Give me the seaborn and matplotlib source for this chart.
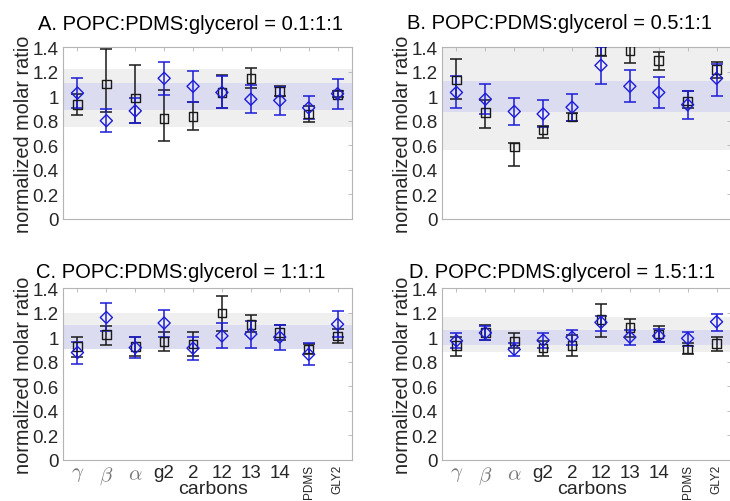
import numpy as np
import pandas as pd
import matplotlib
matplotlib.use('Agg')
import matplotlib.pyplot as plt
import seaborn as sns

sns.set_theme(style='white')
plt.rcParams['font.family'] = ['Liberation Sans', 'DejaVu Sans']
plt.rcParams['mathtext.fontset'] = 'cm'

# carbon labels on the x axis
carbons = ['$\\gamma$', '$\\beta$', '$\\alpha$', 'g2', '2', '12', '13', '14', 'PDMS', 'GLY2']
titles = ['A. POPC:PDMS:glycerol = 0.1:1:1', 'B. POPC:PDMS:glycerol = 0.5:1:1',
          'C. POPC:PDMS:glycerol = 1:1:1', 'D. POPC:PDMS:glycerol = 1.5:1:1']

# black squares: mean, lower end, upper end of the error bar
black_A = [0.93, 1.10, 0.985, 0.82, 0.835, 1.03, 1.145, 1.04, 0.855, 1.015]
black_A_lo = [0.845, 0.87, 0.78, 0.635, 0.725, 0.90, 1.065, 1.00, 0.79, 0.99]
black_A_hi = [1.015, 1.385, 1.25, 1.05, 0.95, 1.17, 1.23, 1.08, 0.92, 1.04]
blue_A = [1.025, 0.80, 0.88, 1.145, 1.08, 1.03, 0.975, 0.965, 0.905, 1.02]
blue_A_lo = [0.90, 0.705, 0.78, 1.01, 0.95, 0.90, 0.86, 0.85, 0.815, 0.895]
blue_A_hi = [1.15, 0.895, 0.985, 1.28, 1.205, 1.16, 1.09, 1.075, 1.005, 1.14]

black_B = [1.13, 0.865, 0.585, 0.725, 0.83, 1.37, 1.37, 1.29, 0.96, 1.215]
black_B_lo = [0.98, 0.74, 0.43, 0.66, 0.80, 1.33, 1.27, 1.215, 0.90, 1.15]
black_B_hi = [1.30, 0.97, 0.62, 0.76, 0.86, 1.41, 1.45, 1.36, 1.04, 1.28]
blue_B = [1.03, 0.975, 0.875, 0.855, 0.91, 1.25, 1.08, 1.03, 0.93, 1.145]
blue_B_lo = [0.905, 0.855, 0.765, 0.75, 0.80, 1.095, 0.95, 0.90, 0.815, 1.005]
blue_B_hi = [1.16, 1.095, 0.985, 0.965, 1.02, 1.40, 1.215, 1.155, 1.04, 1.265]

black_C = [0.925, 1.02, 0.925, 0.965, 0.945, 1.195, 1.105, 1.04, 0.905, 1.01]
black_C_lo = [0.84, 0.94, 0.85, 0.885, 0.85, 1.05, 1.04, 0.98, 0.86, 0.955]
black_C_hi = [1.005, 1.09, 1.00, 1.045, 1.04, 1.335, 1.18, 1.10, 0.945, 1.065]
blue_C = [0.875, 1.16, 0.915, 1.115, 0.91, 1.01, 1.025, 1.0, 0.86, 1.105]
blue_C_lo = [0.785, 1.05, 0.83, 1.0, 0.815, 0.91, 0.915, 0.895, 0.775, 1.0]
blue_C_hi = [0.96, 1.275, 1.0, 1.225, 1.0, 1.115, 1.13, 1.10, 0.95, 1.215]

black_D = [0.93, 1.04, 0.97, 0.91, 0.93, 1.145, 1.08, 1.025, 0.905, 0.95]
black_D_lo = [0.85, 0.98, 0.91, 0.85, 0.85, 1.005, 1.0, 0.96, 0.865, 0.89]
black_D_hi = [1.0, 1.10, 1.03, 0.97, 1.02, 1.27, 1.15, 1.09, 0.95, 1.0]
blue_D = [0.97, 1.035, 0.90, 0.975, 1.0, 1.12, 1.0, 1.01, 0.99, 1.125]
blue_D_lo = [0.91, 0.98, 0.85, 0.91, 0.94, 1.05, 0.94, 0.96, 0.93, 1.05]
blue_D_hi = [1.03, 1.09, 0.95, 1.035, 1.06, 1.17, 1.06, 1.065, 1.04, 1.19]

# shaded bands (gray outer, blue inner)
gray_band = [(0.75, 1.22), (0.56, 1.42), (0.90, 1.20), (0.88, 1.16)]
blue_band = [(0.89, 1.11), (0.875, 1.125), (0.90, 1.10), (0.94, 1.06)]

panels = [
    (black_A, black_A_lo, black_A_hi, blue_A, blue_A_lo, blue_A_hi),
    (black_B, black_B_lo, black_B_hi, blue_B, blue_B_lo, blue_B_hi),
    (black_C, black_C_lo, black_C_hi, blue_C, blue_C_lo, blue_C_hi),
    (black_D, black_D_lo, black_D_hi, blue_D, blue_D_lo, blue_D_hi),
]

W, H = 730, 502
# axes boxes in pixels: left, top, width, height
boxes = [(63, 48, 289, 172), (442, 48, 289, 172), (63, 289, 289, 172), (442, 289, 289, 172)]
title_x = [0.44, 0.408, 0.408, 0.415]
title_dy = [24, 25, 17, 17]

BLACK = '#1a1a1a'
BLUE = '#1c1cd8'
TICK = '#262626'
SPINE = '#b4b4b4'


def draw_series(ax, x, y, lo, hi, color, marker):
    y = np.array(y)
    err = [y - np.array(lo), np.array(hi) - y]
    ax.errorbar(x, y, yerr=err, fmt='none', ecolor=color, elinewidth=1.1,
                capsize=4.5, capthick=1.1, zorder=3)
    df = pd.DataFrame({'x': x, 'y': y})
    sns.scatterplot(data=df, x='x', y='y', ax=ax, marker=marker, s=38,
                    facecolor='none', edgecolor=color, linewidth=1.0, zorder=4)


fig = plt.figure(figsize=(W / 100, H / 100), dpi=100)
x = np.arange(1, len(carbons) + 1)

for i, (bk, bk_lo, bk_hi, bl, bl_lo, bl_hi) in enumerate(panels):
    l, t, w, h = boxes[i]
    ax = fig.add_axes([l / W, (H - t - h) / H, w / W, h / H])
    ax.axhspan(*gray_band[i], color='#efefef', lw=0, zorder=0)
    ax.axhspan(*blue_band[i], color='#dcdcf0', lw=0, zorder=1)

    draw_series(ax, x, bk, bk_lo, bk_hi, BLACK, 's')
    draw_series(ax, x, bl, bl_lo, bl_hi, BLUE, 'D')

    ax.set_xlim(0.5, 10.5)
    ax.set_ylim(0, 1.4)
    ax.set_yticks(np.arange(0, 1.41, 0.2))
    ax.set_yticklabels(['0', '0.2', '0.4', '0.6', '0.8', '1', '1.2', '1.4'])
    ax.set_xticks(x)
    ax.tick_params(direction='in', length=3, width=0.6, color=SPINE,
                   top=True, right=True, labelsize=13.5, labelcolor=TICK, pad=3)
    for s in ax.spines.values():
        s.set_color(SPINE)
        s.set_linewidth(0.8)
    ax.set_xlabel('')
    ax.set_ylabel('normalized molar ratio', fontsize=14.3, color=TICK)
    ax.yaxis.set_label_coords(-0.104, 0.5)

    if i >= 2:
        ax.set_xticklabels(carbons)
        for j, lab in enumerate(ax.get_xticklabels()):
            if j < 3:
                lab.set_color('#777777')
                lab.set_fontsize(15)
            elif carbons[j] in ('PDMS', 'GLY2'):
                lab.set_rotation(90)
                lab.set_fontsize(8.5)
                lab.set_va('top')
        ax.text(0.52, -29 / h, 'carbons', transform=ax.transAxes,
                ha='center', va='center', fontsize=14, color=TICK)
    else:
        ax.set_xticklabels([])

    ax.text(title_x[i], 1 + title_dy[i] / h, titles[i], transform=ax.transAxes,
            ha='center', va='center', fontsize=14.5, color='black')

fig.savefig('out.png', dpi=100)
